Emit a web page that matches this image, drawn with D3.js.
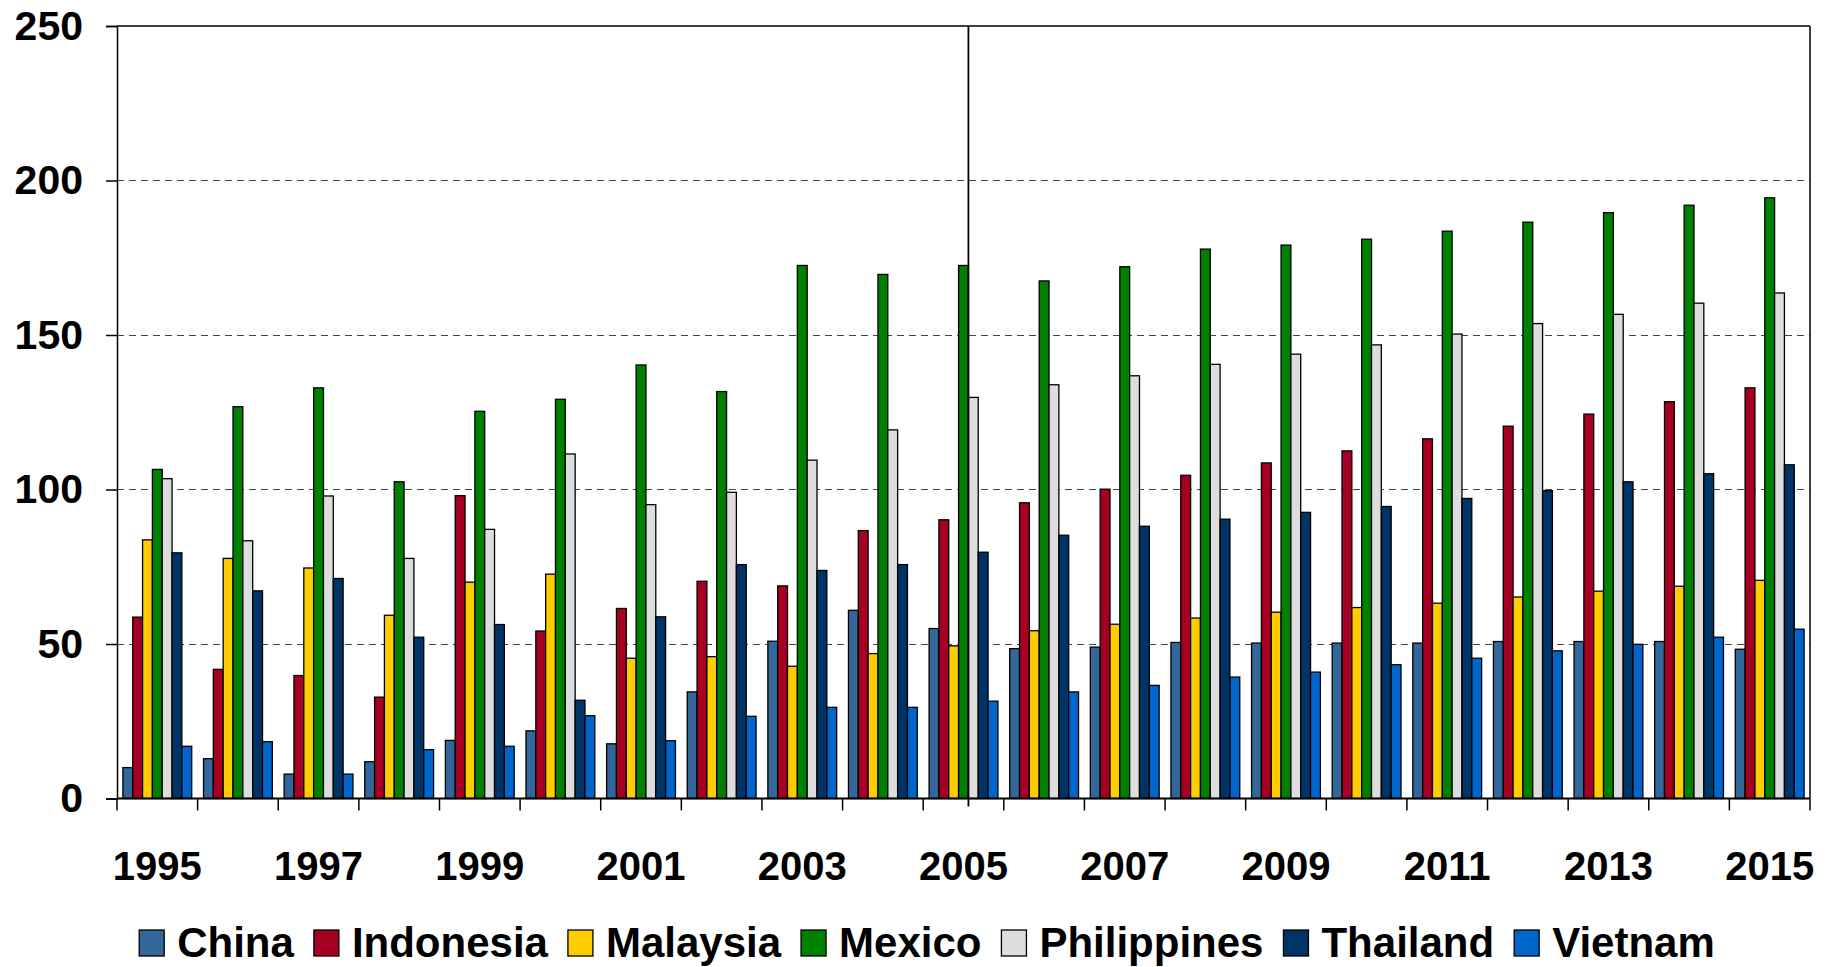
<!DOCTYPE html>
<html>
<head>
<meta charset="utf-8">
<script src="https://cdn.jsdelivr.net/npm/d3@7"></script>
<style>
  html, body { margin: 0; padding: 0; background: #fff; }
  svg { display: block; }
  text { font-family: "Liberation Sans", Arial, sans-serif; font-weight: bold; fill: #000; }
</style>
</head>
<body>
<svg id="chart" width="1835" height="967"></svg>
<script>
const years = [1995,1996,1997,1998,1999,2000,2001,2002,2003,2004,2005,2006,2007,2008,2009,2010,2011,2012,2013,2014,2015];
const tickLabels = ["1995","1997","1999","2001","2003","2005","2007","2009","2011","2013","2015"];
const yTicks = [0, 50, 100, 150, 200, 250];
const seriesNames = ["China","Indonesia","Malaysia","Mexico","Philippines","Thailand","Vietnam"];
const seriesColors = ["#336699","#A50021","#FFCC00","#008000","#DDDDDD","#003366","#0066CC"];

const china       = [10.0, 12.9, 7.9, 11.9, 18.8, 21.9, 17.7, 34.5, 50.9, 60.9, 55.0, 48.5, 49.0, 50.5, 50.3, 50.3, 50.3, 50.8, 50.8, 50.8, 48.3];
const indonesia   = [58.7, 41.8, 39.8, 32.8, 98.0, 54.2, 61.5, 70.3, 68.8, 86.7, 90.2, 95.7, 100.1, 104.6, 108.6, 112.5, 116.4, 120.5, 124.4, 128.4, 132.9];
const malaysia    = [83.7, 77.7, 74.6, 59.3, 70.0, 72.6, 45.4, 45.9, 42.8, 46.9, 49.4, 54.3, 56.4, 58.4, 60.3, 61.8, 63.2, 65.2, 67.1, 68.7, 70.6];
const mexico      = [106.5, 126.8, 132.9, 102.5, 125.3, 129.2, 140.3, 131.7, 172.5, 169.6, 172.5, 167.5, 172.1, 177.8, 179.1, 181.0, 183.6, 186.5, 189.6, 192.0, 194.4];
const philippines = [103.5, 83.4, 97.9, 77.7, 87.1, 111.5, 95.1, 99.1, 109.5, 119.3, 129.8, 133.9, 136.8, 140.5, 143.8, 146.8, 150.3, 153.7, 156.7, 160.3, 163.6];
const thailand    = [79.5, 67.2, 71.2, 52.2, 56.3, 31.8, 58.8, 75.7, 73.8, 75.7, 79.7, 85.2, 88.1, 90.4, 92.6, 94.5, 97.1, 99.6, 102.5, 105.1, 108.0];
const vietnam     = [16.9, 18.4, 7.9, 15.8, 16.9, 26.8, 18.7, 26.6, 29.5, 29.5, 31.5, 34.5, 36.6, 39.3, 40.9, 43.3, 45.4, 47.8, 49.9, 52.2, 54.8];
const markerYear = 2005;

const seriesValues = [china, indonesia, malaysia, mexico, philippines, thailand, vietnam];

const svg = d3.select("#chart");
const L = 117, R = 1810, T = 26, B = 798.5;

const x0 = d3.scaleBand().domain(years).range([L, R]).paddingInner(0).paddingOuter(0);
const x1 = d3.scaleBand().domain(seriesNames).range([0, x0.bandwidth()]).paddingInner(0).paddingOuter(0.6);
const y = d3.scaleLinear().domain([0, 250]).range([B, T]);

// gridlines
svg.append("g")
  .selectAll("line")
  .data(yTicks.filter(d => d > 0 && d < 250))
  .join("line")
  .attr("x1", L).attr("x2", R)
  .attr("y1", d => Math.round(y(d)) + 0.5).attr("y2", d => Math.round(y(d)) + 0.5)
  .attr("stroke", "#444").attr("stroke-width", 1.2).attr("stroke-dasharray", "7,5");

// bars
const rows = years.map((yr, i) => ({ year: yr, vals: seriesNames.map((s, j) => ({ s, j, v: seriesValues[j][i] })) }));
const groups = svg.append("g").selectAll("g").data(rows).join("g")
  .attr("transform", d => `translate(${x0(d.year)},0)`);
groups.selectAll("rect").data(d => d.vals).join("rect")
  .attr("x", d => x1(d.s))
  .attr("width", x1.bandwidth())
  .attr("y", d => y(d.v))
  .attr("height", d => y(0) - y(d.v))
  .attr("fill", d => seriesColors[d.j])
  .attr("stroke", "#000").attr("stroke-width", 1.3);

// frame top and right
svg.append("line").attr("x1", L).attr("x2", R).attr("y1", T).attr("y2", T).attr("stroke", "#000").attr("stroke-width", 1.5);
svg.append("line").attr("x1", R).attr("x2", R).attr("y1", T).attr("y2", B).attr("stroke", "#000").attr("stroke-width", 1.5);

// marker vertical line (between Mexico and Philippines bars of 2005)
const mx = x0(markerYear) + x1("Philippines");
svg.append("line").attr("x1", mx).attr("x2", mx).attr("y1", T).attr("y2", B + 8).attr("stroke", "#000").attr("stroke-width", 1.8);

// y axis
const yAxis = svg.append("g").attr("transform", `translate(${L},0)`)
  .call(d3.axisLeft(y).tickValues(yTicks).tickSize(11).tickPadding(23).tickFormat(d3.format("d")));
yAxis.select(".domain").attr("stroke", "#000").attr("stroke-width", 1.5);
yAxis.selectAll(".tick line").attr("stroke", "#000").attr("stroke-width", 1.5);
yAxis.selectAll("text").style("font-size", "41px").style("font-family", '"Liberation Sans", Arial, sans-serif').style("font-weight", "bold").attr("fill", "#000");

// x axis: ticks at band boundaries
const xAxisG = svg.append("g");
xAxisG.append("line").attr("x1", L).attr("x2", R).attr("y1", B).attr("y2", B).attr("stroke", "#000").attr("stroke-width", 2);
const boundaries = years.map(yr => x0(yr)).concat([R]);
xAxisG.selectAll("line.tk").data(boundaries).join("line").attr("class", "tk")
  .attr("x1", d => d).attr("x2", d => d).attr("y1", B).attr("y2", B + 12)
  .attr("stroke", "#000").attr("stroke-width", 1.5);
xAxisG.selectAll("text").data(tickLabels).join("text")
  .attr("x", d => x0(+d) + x0.bandwidth() / 2)
  .attr("y", 880)
  .attr("text-anchor", "middle")
  .style("font-size", "40px")
  .text(d => d);

// legend
const leg = svg.append("g");
const items = leg.selectAll("g").data(seriesNames).join("g");
items.append("rect").attr("width", 25).attr("height", 26).attr("y", 930)
  .attr("fill", (d, i) => seriesColors[i]).attr("stroke", "#000").attr("stroke-width", 1.3);
items.append("text").attr("x", 38).attr("y", 957).style("font-size", "42px").text(d => d);
const widths = [];
items.each(function () {
  const w = 38 + this.querySelector("text").getComputedTextLength();
  widths.push(w);
});
const gap = 20;
const total = widths.reduce((a, b) => a + b, 0) + gap * (widths.length - 1);
let start = 927 - total / 2;
items.attr("transform", (d, i) => {
  const t = `translate(${start},0)`;
  start += widths[i] + gap;
  return t;
});
</script>
</body>
</html>
